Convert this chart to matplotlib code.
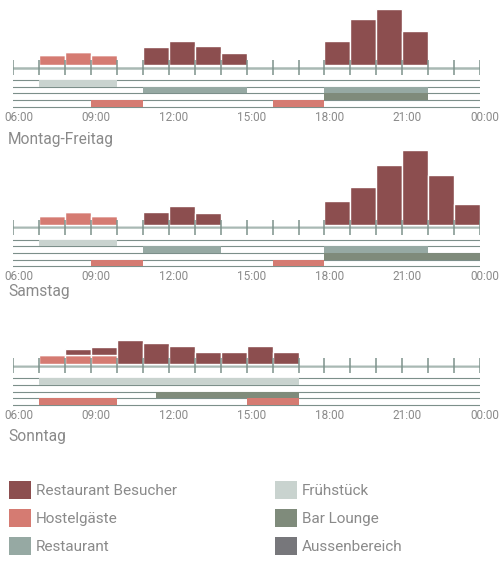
import matplotlib.pyplot as plt
from matplotlib.patches import Patch

plt.rcParams['font.family'] = ['Roboto', 'DejaVu Sans']

# hour slots 06:00 .. 23:00
hours = list(range(6, 24))
tick_hours = list(range(6, 25))
label_hours = [6, 9, 12, 15, 18, 21, 24]
tick_labels = ["06:00", "09:00", "12:00", "15:00", "18:00", "21:00", "00:00"]

# visitors per hour slot
mf_besucher = [0, 0, 0, 0, 0, 18, 24, 19, 12, 0, 0, 0, 24, 46, 56, 34, 0, 0]
mf_hostel = [0, 10, 13, 10, 0, 0, 0, 0, 0, 0, 0, 0, 0, 0, 0, 0, 0, 0]
sa_besucher = [0, 0, 0, 0, 0, 13, 19, 12, 0, 0, 0, 0, 24, 38, 60, 75, 50, 21]
sa_hostel = [0, 9, 13, 9, 0, 0, 0, 0, 0, 0, 0, 0, 0, 0, 0, 0, 0, 0]
so_besucher = [0, 0, 5.7, 8.5, 23.7, 21, 18, 11.7, 11.7, 17.7, 11.7, 0, 0, 0, 0, 0, 0, 0]
so_hostel = [0, 9, 9, 8.5, 0, 0, 0, 0, 0, 0, 0, 0, 0, 0, 0, 0, 0, 0]

# opening times (start, end) per row: Frühstück, Restaurant, Bar Lounge, Hostelgäste
mf_times = [[(7, 10)], [(11, 15), (18, 22)], [(18, 22)], [(9, 11), (16, 18)]]
sa_times = [[(7, 10)], [(11, 14), (18, 22)], [(18, 24)], [(9, 11), (16, 18)]]
so_times = [[(7, 17)], [], [(11.5, 17)], [(7, 10), (15, 17)]]

C_BESUCHER = '#8c4e4f'
C_HOSTEL = '#d57b72'
C_RESTAURANT = '#96a9a3'
C_FRUEH = '#c9d3cf'
C_BAR = '#7f8b7b'
C_AUSSEN = '#77777b'
TXT = '#8a8a8a'
row_colors = [C_FRUEH, C_RESTAURANT, C_BAR, C_HOSTEL]

W, H = 500, 562
fig = plt.figure(figsize=(5, 5.62), dpi=100)
x0, x1 = 13.3, 480
row_lines = [-14.5, -21.2, -27.9, -34.6, -41.3]


def panel(base_px, title, title_px, besucher, hostel, times):
    ax = fig.add_axes([x0 / W, (H - base_px - 60) / H, (x1 - x0) / W, 140 / H])
    ax.set_xlim(6, 24)
    ax.set_ylim(-60, 80)
    ax.axis('off')
    ax.bar(hours, hostel, width=1, align='edge', color=C_HOSTEL, edgecolor='white', lw=1, zorder=3)
    ax.bar(hours, besucher, bottom=hostel, width=1, align='edge', color=C_BESUCHER,
           edgecolor='white', lw=1, zorder=3)
    ax.axhline(-2.4, color='#a9b9b4', lw=1.8, zorder=2)
    ax.vlines(tick_hours, -9.7, 5.3, color='#7d928c', lw=1.1, zorder=4)
    for y in row_lines:
        ax.axhline(y, color='#7c8f8a', lw=0.8, zorder=1)
    for i, spans in enumerate(times):
        if spans:
            ax.broken_barh([(s, e - s) for s, e in spans], (row_lines[i + 1], row_lines[i] - row_lines[i + 1]),
                           facecolors=row_colors[i], zorder=2)
    for h, lab in zip(label_hours, tick_labels):
        ax.text(h + 0.2, -55.5, lab, ha='center', va='baseline', fontsize=8.5, color=TXT)
    fig.text(8 / W, 1 - title_px / H, title, fontsize=11.2, color=TXT, ha='left', va='baseline')


panel(65.3, "Montag-Freitag", 144, mf_besucher, mf_hostel, mf_times)
panel(225, "Samstag", 296, sa_besucher, sa_hostel, sa_times)
panel(363.7, "Sonntag", 441.5, so_besucher, so_hostel, so_times)

legend_names = ["Restaurant Besucher", "Hostelgäste", "Restaurant", "Frühstück", "Bar Lounge", "Aussenbereich"]
legend_colors = [C_BESUCHER, C_HOSTEL, C_RESTAURANT, C_FRUEH, C_BAR, C_AUSSEN]
handles = [Patch(facecolor=c, edgecolor='none') for c in legend_colors]
fig.legend(handles, legend_names, loc='upper left', bbox_to_anchor=(9 / W, 1 - 481 / H), ncol=2,
           frameon=False, fontsize=11, labelcolor=TXT, handlelength=1.45, handleheight=1.45,
           handletextpad=0.33, labelspacing=0.65, columnspacing=6.4, borderpad=0, borderaxespad=0)

fig.savefig('out.png', dpi=100)
